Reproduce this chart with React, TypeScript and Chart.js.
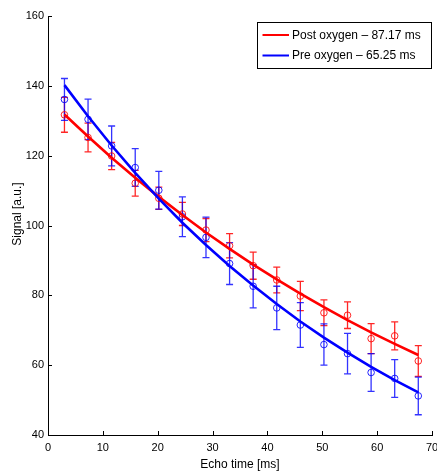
import React, { useEffect, useRef } from 'react';
import { Chart, registerables } from 'chart.js';

Chart.register(...registerables);

// Echo times (ms)
const echoTimes = [3.0, 7.3, 11.6, 15.9, 20.2, 24.5, 28.8, 33.1, 37.4, 41.7, 46.0, 50.3, 54.6, 58.9, 63.2, 67.5];
// Post oxygen (red) measured signal and error half-widths
const postSignal = [131.7, 125.2, 119.9, 112.1, 107.8, 103.3, 98.7, 94.2, 88.5, 84.4, 79.8, 75.0, 74.3, 67.6, 68.4, 61.2];
const postError = [5.0, 4.1, 3.9, 3.7, 3.2, 3.3, 3.3, 3.5, 3.9, 3.7, 4.2, 3.7, 3.8, 4.3, 4.0, 4.4];
// Pre oxygen (blue) measured signal and error half-widths
const preSignal = [136.1, 130.4, 122.8, 116.6, 110.1, 102.5, 96.6, 89.1, 82.6, 76.4, 71.5, 65.9, 63.3, 57.9, 56.2, 51.2];
const preError = [6.0, 5.8, 5.7, 5.4, 5.4, 5.7, 5.8, 6.0, 6.2, 6.2, 6.4, 5.9, 5.8, 5.4, 5.4, 5.4];
// Fitted curves read at the echo times
const postFit = [131.8, 125.5, 119.4, 113.7, 108.2, 103.0, 98.0, 93.3, 88.8, 84.6, 80.5, 76.6, 72.9, 69.4, 66.1, 62.9];
const preFit = [140.2, 131.3, 122.9, 115.1, 107.7, 100.8, 94.4, 88.4, 82.8, 77.5, 72.5, 67.9, 63.6, 59.5, 55.7, 52.2];

const legendLabels = ['Post oxygen \u2013 87.17 ms', 'Pre oxygen \u2013 65.25 ms'];
const xTickValues = [0, 10, 20, 30, 40, 50, 60, 70];
const yTickValues = [40, 60, 80, 100, 120, 140, 160];
const xTitle = 'Echo time [ms]';
const yTitle = 'Signal [a.u.]';

const RED = '#ff0000';
const BLUE = '#0000ff';
const FONT = "'Liberation Sans', Arial, Helvetica, sans-serif";

const toXY = (ys: number[]) => echoTimes.map((x, i) => ({ x, y: ys[i] }));

const errorBarPlugin = {
  id: 'errorBars',
  beforeDatasetsDraw(chart: any) {
    const { ctx, scales } = chart;
    const xs = scales.x;
    const ys = scales.y;
    const series = [
      { vals: postSignal, errs: postError, color: 'rgba(255,0,0,0.85)' },
      { vals: preSignal, errs: preError, color: 'rgba(0,0,255,0.8)' },
    ];
    ctx.save();
    ctx.lineWidth = 1.3;
    series.forEach((s) => {
      ctx.strokeStyle = s.color;
      echoTimes.forEach((t, i) => {
        const px = xs.getPixelForValue(t);
        const top = ys.getPixelForValue(s.vals[i] + s.errs[i]);
        const bot = ys.getPixelForValue(s.vals[i] - s.errs[i]);
        ctx.beginPath();
        ctx.moveTo(px, top);
        ctx.lineTo(px, bot);
        ctx.moveTo(px - 3.5, top);
        ctx.lineTo(px + 3.5, top);
        ctx.moveTo(px - 3.5, bot);
        ctx.lineTo(px + 3.5, bot);
        ctx.stroke();
      });
    });
    ctx.restore();
  },
};

const decorPlugin = {
  id: 'decor',
  afterDraw(chart: any) {
    const { ctx, scales, chartArea } = chart;
    const xs = scales.x;
    const ys = scales.y;
    ctx.save();
    // inner tick marks
    ctx.strokeStyle = '#000';
    ctx.lineWidth = 1;
    ctx.beginPath();
    xTickValues.forEach((v) => {
      const px = Math.round(xs.getPixelForValue(v)) + 0.5;
      ctx.moveTo(px, chartArea.bottom);
      ctx.lineTo(px, chartArea.bottom - 4);
    });
    yTickValues.forEach((v) => {
      const py = Math.round(ys.getPixelForValue(v)) + 0.5;
      ctx.moveTo(chartArea.left, py);
      ctx.lineTo(chartArea.left + 4, py);
    });
    ctx.stroke();

    // y title
    ctx.save();
    ctx.translate(18, 214);
    ctx.rotate(-Math.PI / 2);
    ctx.fillStyle = '#000';
    ctx.font = `12px ${FONT}`;
    ctx.textAlign = 'center';
    ctx.textBaseline = 'middle';
    ctx.fillText(yTitle, 0, 0);
    ctx.restore();

    // legend box
    const bx = 257.5, by = 22.5, bw = 174, bh = 46;
    ctx.fillStyle = '#fff';
    ctx.fillRect(bx, by, bw, bh);
    ctx.strokeStyle = '#000';
    ctx.lineWidth = 1;
    ctx.strokeRect(bx, by, bw, bh);
    const colors = [RED, BLUE];
    const rowsY = [35, 55.5];
    legendLabels.forEach((lab, i) => {
      ctx.strokeStyle = colors[i];
      ctx.lineWidth = 2;
      ctx.beginPath();
      ctx.moveTo(262.5, rowsY[i]);
      ctx.lineTo(289, rowsY[i]);
      ctx.stroke();
      ctx.fillStyle = '#000';
      ctx.font = `12px ${FONT}`;
      ctx.textAlign = 'left';
      ctx.textBaseline = 'middle';
      ctx.fillText(lab, 292, rowsY[i] + 0.5);
    });
    ctx.restore();
  },
};

export default function App() {
  const canvasRef = useRef<HTMLCanvasElement | null>(null);

  useEffect(() => {
    const canvas = canvasRef.current;
    if (!canvas) return;
    const chart = new Chart(canvas, {
      type: 'scatter',
      data: {
        datasets: [
          {
            label: legendLabels[1],
            data: toXY(preFit),
            showLine: true,
            borderColor: BLUE,
            borderWidth: 2.6,
            pointRadius: 0,
            order: 0,
          },
          {
            label: legendLabels[0],
            data: toXY(postFit),
            showLine: true,
            borderColor: RED,
            borderWidth: 2.6,
            pointRadius: 0,
            order: 1,
          },
          {
            label: 'pre data',
            data: toXY(preSignal),
            showLine: false,
            borderColor: 'rgba(0,0,255,0.85)',
            backgroundColor: 'rgba(0,0,0,0)',
            pointRadius: 3.3,
            pointBorderWidth: 1,
            order: 2,
          },
          {
            label: 'post data',
            data: toXY(postSignal),
            showLine: false,
            borderColor: 'rgba(255,0,0,0.85)',
            backgroundColor: 'rgba(0,0,0,0)',
            pointRadius: 3.3,
            pointBorderWidth: 1,
            order: 3,
          },
        ],
      },
      options: {
        animation: false,
        responsive: false,
        devicePixelRatio: 1,
        layout: { padding: { left: 0, top: 16, right: 5, bottom: 0 } },
        plugins: {
          legend: { display: false },
          tooltip: { enabled: false },
        },
        scales: {
          x: {
            type: 'linear',
            position: 'bottom',
            min: 0,
            max: 70,
            afterBuildTicks: (scale: any) => {
              scale.ticks = xTickValues.map((v) => ({ value: v }));
            },
            afterFit: (scale: any) => {
              scale.height = 39;
              scale.paddingLeft = 0;
              scale.paddingRight = 0;
            },
            grid: { display: false, drawTicks: false },
            border: { display: true, color: '#000', width: 1 },
            ticks: {
              color: '#000',
              font: { family: FONT, size: 11 },
              padding: 6,
              maxRotation: 0,
              autoSkip: false,
            },
            title: {
              display: true,
              text: xTitle,
              color: '#000',
              font: { family: FONT, size: 12 },
              padding: { top: 0, bottom: 2 },
            },
          },
          y: {
            type: 'linear',
            position: 'left',
            min: 40,
            max: 160,
            afterBuildTicks: (scale: any) => {
              scale.ticks = yTickValues.map((v) => ({ value: v }));
            },
            afterFit: (scale: any) => {
              scale.width = 48;
              scale.paddingTop = 0;
              scale.paddingBottom = 0;
            },
            grid: { display: false, drawTicks: false },
            border: { display: true, color: '#000', width: 1 },
            ticks: {
              color: '#000',
              font: { family: FONT, size: 11 },
              padding: 4,
              autoSkip: false,
            },
            title: { display: false },
          },
        },
      },
      plugins: [errorBarPlugin, decorPlugin],
    } as any);
    return () => chart.destroy();
  }, []);

  return (
    <div style={{ position: 'absolute', left: 0, top: 0, width: 437, height: 474, background: '#fff' }}>
      <canvas ref={canvasRef} width={437} height={474} style={{ display: 'block' }} />
    </div>
  );
}
